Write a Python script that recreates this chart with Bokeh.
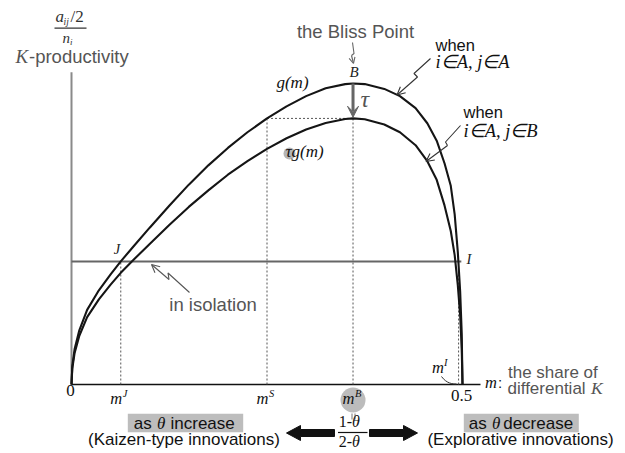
from bokeh.plotting import figure
from bokeh.models import Range1d, Arrow, VeeHead, OpenHead
from bokeh.core.properties import value
from bokeh.embed import file_html
from bokeh.resources import INLINE

# share of differential K
m = [0, 0.001, 0.004, 0.01, 0.02, 0.035, 0.05, 0.063, 0.08, 0.1, 0.125, 0.15,
     0.175, 0.2, 0.225, 0.25, 0.275, 0.3, 0.325, 0.35, 0.36, 0.375, 0.4, 0.42,
     0.44, 0.455, 0.467, 0.477, 0.485, 0.49, 0.494, 0.497, 0.499, 0.5]
# K-productivity g(m): i in A, j in A
g_same = [0, 0.06, 0.118, 0.18, 0.248, 0.313, 0.366, 0.409, 0.461, 0.521, 0.594, 0.664,
          0.728, 0.786, 0.838, 0.884, 0.924, 0.958, 0.984, 0.998, 1.0, 0.998, 0.982, 0.958,
          0.918, 0.868, 0.81, 0.735, 0.66, 0.565, 0.44, 0.31, 0.17, 0]
# K-productivity tau*g(m): i in A, j in B
g_cross = [0, 0.053, 0.105, 0.162, 0.224, 0.283, 0.332, 0.371, 0.416, 0.467, 0.530, 0.590,
           0.645, 0.697, 0.742, 0.783, 0.818, 0.847, 0.869, 0.882, 0.884, 0.881, 0.864, 0.838,
           0.795, 0.742, 0.68, 0.595, 0.51, 0.43, 0.33, 0.23, 0.12, 0]

m_J, m_S, m_B, m_I = 0.063, 0.25, 0.36, 0.495
isolation = 0.409      # productivity in isolation
g_peak = 1.0           # bliss point B
tau_peak = 0.884       # peak of tau*g(m)
x_axis_end = 0.523
y_axis_top = 1.037

W, H = 625, 453
OX, OY = 71, 384       # pixel position of the origin
SX, SY = 782, 301      # pixels per unit on each axis


def X(px):
    return (px - OX) / SX


def Y(py):
    return (OY - py) / SY


p = figure(width=W, height=H, x_range=Range1d(X(0), X(W)), y_range=Range1d(Y(H), Y(0)),
           min_border=0, toolbar_location=None, output_backend="svg",
           x_axis_location=None, y_axis_location=None)
p.grid.visible = False
p.outline_line_color = None
p.background_fill_color = "white"
p.border_fill_color = "white"

SANS = "Liberation Sans"
SERIF = "Liberation Serif"


def txt(px, py, s, size, font=SANS, style="normal", color="#222", align="left"):
    # py is the baseline in screen pixels; shift for the renderer's baseline handling
    p.text(x=[X(px)], y=[Y(py - 0.38 * size)], text=[s], text_font=value(font),
           text_font_size=f"{size}px", text_font_style=style, text_color=color,
           text_align=align, text_baseline="alphabetic")


def seg(x0, y0, x1, y1, color="#555", width=1.0, dash="solid"):
    p.segment(x0=[x0], y0=[y0], x1=[x1], y1=[y1], line_color=color,
              line_width=width, line_dash=dash)


# axes
seg(0, 0, 0, y_axis_top, color="#8a8a8a", width=2)
seg(0, 0, x_axis_end, 0, color="#111", width=1.6)

# guide lines
DOT = "2 2"
seg(m_J, 0, m_J, isolation, dash=DOT)
seg(m_S, 0, m_S, tau_peak, dash=DOT)
seg(m_B, 0, m_B, tau_peak, dash=DOT)
seg(m_S, tau_peak, m_B, tau_peak, dash=DOT)
seg(m_I, 0, m_I, isolation, dash=DOT)

# productivity in isolation
seg(0, isolation, m_I + 0.0035, isolation, color="#666", width=2)

# curves
p.line(m, g_same, line_color="#151515", line_width=2.1)
p.line(m, g_cross, line_color="#151515", line_width=2.1)

# tau arrow from B down to the lower curve
p.add_layout(Arrow(end=VeeHead(size=11, fill_color="#666", line_color="#666"),
                   x_start=m_B, y_start=g_peak, x_end=m_B, y_end=tau_peak + 0.004,
                   line_color="#666", line_width=3))


def bolt(pts, color="#333", head=8):
    xs = [X(a) for a, _ in pts]
    ys = [Y(b) for _, b in pts]
    p.line(xs[:-1], ys[:-1], line_color=color, line_width=1.1)
    p.add_layout(Arrow(end=OpenHead(size=head, line_color=color, line_width=1.1),
                       x_start=xs[-2], y_start=ys[-2], x_end=xs[-1], y_end=ys[-1],
                       line_color=color, line_width=1.1))


bolt([(352, 42), (353.5, 53), (351, 55), (353, 63)], color="#666", head=6)
bolt([(430, 58), (413.5, 73), (417, 76.5), (396.5, 94.5)])
bolt([(460, 125), (445, 141.5), (447, 145), (425.5, 161)])
bolt([(189, 292), (167.5, 272.5), (168.5, 279), (151, 264)], color="#555")

# m^I leader
p.bezier(x0=[X(441)], y0=[Y(376)], x1=[X(456)], y1=[Y(383.5)],
         cx0=[X(446)], cy0=[Y(383)], cx1=[X(452)], cy1=[Y(383.5)],
         line_color="#333", line_width=1)

# highlight discs
p.scatter(x=[m_B], y=[Y(399.5)], size=25, fill_color="#bcbcbc", line_color=None)
p.scatter(x=[X(289)], y=[Y(153)], size=12, fill_color="#b5b5b5", line_color=None)

# gray boxes
p.quad(left=[X(127.3), X(463.3)], right=[X(242.7), X(578.3)],
       top=[Y(413.3), Y(413.3)], bottom=[Y(431.7), Y(431.7)],
       fill_color="#bdbdbd", line_color=None)

# direction arrows
for tip, back, end in ((286, 300, 334), (417, 403, 369)):
    cy = 432.5
    xs = [tip, back, back, end, end, back, back]
    ys = [cy, cy - 7.5, cy - 3.5, cy - 3.5, cy + 3.5, cy + 3.5, cy + 7.5]
    p.patch([X(a) for a in xs], [Y(b) for b in ys], fill_color="#111", line_color="#111")

# y-axis label
txt(55, 22.7, "a", 17, SERIF, "italic", "#333")
txt(63, 25.5, "ij", 9.5, SERIF, "italic", "#333")
txt(70, 22.7, "/2", 17, SERIF, "normal", "#333")
seg(X(54), Y(27.7), X(86), Y(27.7), color="#333", width=1.2)
txt(62, 42.7, "n", 15, SERIF, "italic", "#333")
txt(69.5, 45, "i", 9, SERIF, "italic", "#333")
txt(15, 63.3, "K", 19, SERIF, "italic", "#555")
txt(28.5, 63.3, "-productivity", 18.5, SANS, "normal", "#555")

# curve annotations
txt(355, 38.5, "the Bliss Point", 18.5, SANS, "normal", "#555", "center")
txt(353.5, 77, "B", 15, SERIF, "italic", "#222", "center")
txt(292, 88, "g(m)", 17, SERIF, "italic", "#111", "center")
txt(360, 107.5, "τ", 24, SERIF, "italic", "#555")
txt(285, 157, "τg(m)", 17, SERIF, "italic", "#111")
txt(435, 50.7, "when", 16.5, SANS, "normal", "#111")
txt(435, 68.3, "i∈A, j∈A", 18.5, SERIF, "italic", "#111")
txt(463, 117.3, "when", 16.5, SANS, "normal", "#111")
txt(463, 137.3, "i∈A, j∈B", 18.5, SERIF, "italic", "#111")
txt(116.5, 254, "J", 14.5, SERIF, "italic", "#222", "center")
txt(468.5, 264.5, "I", 14.5, SERIF, "italic", "#222", "center")
txt(212.5, 311.5, "in isolation", 18.5, SANS, "normal", "#555", "center")

# x-axis labels
txt(70, 396.5, "0", 17, SERIF, "normal", "#111", "center")
txt(461, 401.5, "0.5", 17, SERIF, "normal", "#111", "center")
for mx, sup in ((m_J, "J"), (m_S, "S"), (m_B, "B")):
    cx = OX + SX * mx
    txt(cx - 10.5, 404.5, "m", 16.5, SERIF, "italic", "#111")
    txt(cx + 2, 397, sup, 10.5, SERIF, "italic", "#111")
txt(431.5, 373, "m", 16.5, SERIF, "italic", "#111")
txt(443.5, 366, "I", 10.5, SERIF, "italic", "#111")
txt(484.5, 388, "m", 16.5, SERIF, "italic", "#111")
txt(497.5, 388, ":", 15, SANS, "normal", "#111")
txt(507.5, 378.5, "the share of", 17, SANS, "normal", "#555")
txt(507, 394.5, "differential", 17, SANS, "normal", "#555")
txt(590.5, 394.5, "K", 17.5, SERIF, "italic", "#555")

# m^B = (1-θ)/(2-θ)
seg(X(351.5), Y(413), X(351.5), Y(419), color="#777", width=1)
seg(X(354.5), Y(413), X(354.5), Y(419), color="#777", width=1)
txt(351.5, 427.5, "1-", 16, SERIF, "normal", "#111", "right")
txt(351.5, 427.5, "θ", 16, SERIF, "italic", "#111")
seg(X(337.5), Y(432), X(367), Y(432), color="#111", width=1.2)
txt(351.5, 447.5, "2-", 16, SERIF, "normal", "#111", "right")
txt(351.5, 447.5, "θ", 16, SERIF, "italic", "#111")

# bottom captions
txt(133.3, 429.3, "as", 17, SANS, "normal", "#111")
txt(156.5, 429.3, "θ", 17, SERIF, "italic", "#111")
txt(170, 429.3, "increase", 17, SANS, "normal", "#111")
txt(183.5, 445.5, "(Kaizen-type innovations)", 17, SANS, "normal", "#111", "center")
txt(468.3, 429.3, "as", 17, SANS, "normal", "#111")
txt(491.5, 429.3, "θ", 17, SERIF, "italic", "#111")
txt(502.7, 429.3, "decrease", 17, SANS, "normal", "#111")
txt(520, 445.5, "(Explorative innovations)", 17, SANS, "normal", "#111", "center")

open("out.html", "w").write(file_html(p, INLINE))
